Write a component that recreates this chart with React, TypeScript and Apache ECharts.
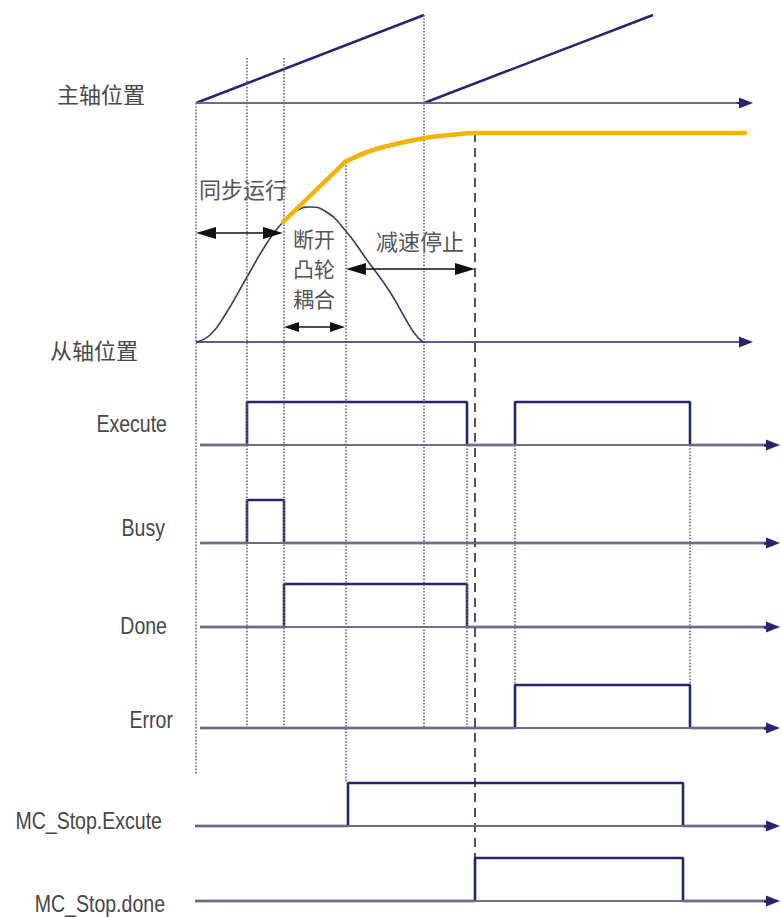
import React, { useEffect, useRef } from "react";
import * as echarts from "echarts";

// ---------------- DATA (diagram time units; 0 = start of synchronous run) ----------------
// master axis position: two saw-tooth cycles (0 = start of cycle, 1 = end of cycle)
const masterCycleStart = [0, 228];
const masterCycleEnd = [228, 457];

// slave axis cam profile (bell)
const slaveTimes = [0, 14, 29, 51, 71, 87, 102, 114, 129, 149, 171, 194, 209, 219, 227];
const slavePos = [0, 7, 27, 65, 99, 120, 132, 135, 131, 112, 82, 50, 24, 8, 0];

// slave position after decoupling (yellow): straight part then deceleration
const decoupleTimes = [87, 149];
const decouplePos = [120, 180];
const decelTimes = [149, 174, 204, 229, 254, 279, 549];
const decelPos = [180, 191, 199, 204, 207, 209, 209];

// digital signals (step, value held until next instant)
const signalNames = ["Execute", "Busy", "Done", "Error", "MC_Stop.Excute", "MC_Stop.done"];
const executeTimes = [4, 51, 271, 319, 494, 572];
const executeLevels = [0, 1, 0, 1, 0, 0];
const busyTimes = [4, 51, 88, 572];
const busyLevels = [0, 1, 0, 0];
const doneTimes = [4, 88, 271, 572];
const doneLevels = [0, 1, 0, 0];
const errorTimes = [4, 319, 494, 572];
const errorLevels = [0, 1, 0, 0];
const stopExecTimes = [-1, 152, 487, 572];
const stopExecLevels = [0, 1, 0, 0];
const stopDoneTimes = [-1, 279, 487, 572];
const stopDoneLevels = [0, 1, 0, 0];

// annotation texts
const annoSync = "同步运行";
const annoDecouple = ["断开", "凸轮", "耦合"];
const annoDecel = "减速停止";
const masterLabel = "主轴位置";
const slaveLabel = "从轴位置";

// ---------------- LAYOUT / STYLE ----------------
const W = 781;
const H = 917;
const X0 = 196; // pixel of time 0
const MASTER_BASE = 103;
const MASTER_AMP = 88;
const SLAVE_BASE = 342;
const ROW_BASE = [445, 543, 627, 728, 826, 901];
const ROW_AMP = 43;
const AXIS_END = 557;
const SIGNAL_AXIS_END = 584;

const NAVY = "#262670";
const AXIS_GRAY = "#6c6c84";
const GUIDE = "#6a6a6a";
const YELLOW = "#f2b400";
const TEXT = "#474747";
const CJK = "'Noto Sans CJK SC', sans-serif";
const LATIN = "'Liberation Sans', Arial, sans-serif";

// dotted guides: [time, yTop, yBottom]
const guides: number[][] = [
  [0, MASTER_BASE, 775],
  [51, 58, ROW_BASE[3]],
  [88, 58, ROW_BASE[3]],
  [150, 162, 783],
  [228, 15, ROW_BASE[3]],
  [271, ROW_BASE[0], ROW_BASE[3]],
  [319, ROW_BASE[0], ROW_BASE[3] - ROW_AMP],
  [494, ROW_BASE[0], ROW_BASE[3] - ROW_AMP],
];
const dashedGuide = [279, 133, 858];

const signalTimes = [executeTimes, busyTimes, doneTimes, errorTimes, stopExecTimes, stopDoneTimes];
const signalLevels = [executeLevels, busyLevels, doneLevels, errorLevels, stopExecLevels, stopDoneLevels];
const labelRight = [167, 165, 167, 173, 162, 165];
const labelY = [424, 528, 626, 720, 821, 904];

function arrowLine(t0: number, y0: number, t1: number, y1: number, headLen: number, both: boolean, color: string, width: number) {
  const dx = t1 - t0;
  const dy = y1 - y0;
  const len = Math.hypot(dx, dy) || 1;
  const ux = dx / len;
  const uy = dy / len;
  const s = both ? [t0 + (ux * headLen) / 2, y0 + (uy * headLen) / 2] : [t0, y0];
  const e = [t1 - (ux * headLen) / 2, y1 - (uy * headLen) / 2];
  return [
    { coord: s, lineStyle: { color, width, type: "solid" } },
    { coord: e },
  ];
}

export default function App() {
  const ref = useRef<HTMLDivElement>(null);

  useEffect(() => {
    document.body.style.margin = "0";
    const chart = echarts.init(ref.current!, undefined, { renderer: "svg" });

    const series: any[] = [];

    // guide lines (dotted) + dashed
    series.push({
      type: "line",
      data: [],
      silent: true,
      z: 1,
      markLine: {
        silent: true,
        symbol: ["none", "none"],
        label: { show: false },
        animation: false,
        lineStyle: { color: GUIDE, width: 1.6, type: [1.6, 1.6] },
        data: [
          ...guides.map((g) => [{ coord: [g[0], g[1]] }, { coord: [g[0], g[2]] }]),
          [
            { coord: [dashedGuide[0], dashedGuide[1]], lineStyle: { color: "#2b2b2b", width: 1.6, type: [9, 6] } },
            { coord: [dashedGuide[0], dashedGuide[2]] },
          ],
        ],
      },
    });

    // axis lines (plain part)
    const axisPlain: any[] = [
      [{ coord: [0, MASTER_BASE], lineStyle: { color: AXIS_GRAY, width: 2, type: "solid" } }, { coord: [AXIS_END - 10, MASTER_BASE] }],
    ];
    ROW_BASE.forEach((b, i) => {
      axisPlain.push([
        { coord: [signalTimes[i][0], b], lineStyle: { color: AXIS_GRAY, width: 2, type: "solid" } },
        { coord: [SIGNAL_AXIS_END - 10, b] },
      ]);
    });
    series.push({
      type: "line",
      data: [],
      silent: true,
      z: 2,
      markLine: { silent: true, symbol: ["none", "none"], label: { show: false }, animation: false, data: axisPlain },
    });

    // axis arrow heads (navy)
    const axisArrows: any[] = [
      arrowLine(AXIS_END - 16, MASTER_BASE, AXIS_END, MASTER_BASE, 14, false, NAVY, 2),
      arrowLine(0, SLAVE_BASE, AXIS_END, SLAVE_BASE, 14, false, NAVY, 1.6),
    ];
    ROW_BASE.forEach((b) => {
      axisArrows.push(arrowLine(SIGNAL_AXIS_END - 16, b, SIGNAL_AXIS_END, b, 14, false, NAVY, 2.6));
    });
    series.push({
      type: "line",
      data: [],
      silent: true,
      z: 3,
      markLine: {
        silent: true,
        symbol: ["none", "triangle"],
        symbolSize: [11, 14],
        label: { show: false },
        animation: false,
        data: axisArrows,
      },
    });

    // annotation double arrows
    series.push({
      type: "line",
      data: [],
      silent: true,
      z: 6,
      markLine: {
        silent: true,
        symbol: ["triangle", "triangle"],
        symbolSize: [12, 20],
        label: { show: false },
        animation: false,
        data: [
          arrowLine(0, 233, 87, 233, 20, true, "#111", 1.6),
          arrowLine(150, 269, 279, 269, 20, true, "#111", 1.6),
        ],
      },
    });
    series.push({
      type: "line",
      data: [],
      silent: true,
      z: 6,
      markLine: {
        silent: true,
        symbol: ["triangle", "triangle"],
        symbolSize: [10, 15],
        label: { show: false },
        animation: false,
        data: [arrowLine(88, 327, 149, 327, 15, true, "#111", 1.6)],
      },
    });

    // master position ramps
    masterCycleStart.forEach((t0, i) => {
      series.push({
        type: "line",
        silent: true,
        z: 4,
        symbol: "none",
        lineStyle: { color: NAVY, width: 2.5 },
        data: [
          [t0, MASTER_BASE - 0 * MASTER_AMP],
          [masterCycleEnd[i], MASTER_BASE - 1 * MASTER_AMP],
        ],
      });
    });

    // slave bell
    series.push({
      type: "line",
      silent: true,
      z: 4,
      symbol: "none",
      smooth: 0.5,
      lineStyle: { color: "#3a3a68", width: 1.6 },
      data: slaveTimes.map((t, i) => [t, SLAVE_BASE - slavePos[i]]),
    });

    // yellow slave path after decoupling
    series.push({
      type: "line",
      silent: true,
      z: 5,
      symbol: "none",
      lineStyle: { color: YELLOW, width: 4.5, cap: "round" },
      data: decoupleTimes.map((t, i) => [t, SLAVE_BASE - decouplePos[i]]),
    });
    series.push({
      type: "line",
      silent: true,
      z: 5,
      symbol: "none",
      smooth: 0.4,
      lineStyle: { color: YELLOW, width: 4.5, cap: "round" },
      data: decelTimes.map((t, i) => [t, SLAVE_BASE - decelPos[i]]),
    });

    // digital signals
    signalNames.forEach((name, r) => {
      series.push({
        name,
        type: "line",
        silent: true,
        z: 4,
        symbol: "none",
        step: "end",
        lineStyle: { color: NAVY, width: 2.6 },
        data: signalTimes[r].map((t, i) => [t, ROW_BASE[r] - signalLevels[r][i] * ROW_AMP]),
      });
    });

    const texts: any[] = [
      { type: "text", x: 57, y: 93, style: { text: masterLabel, font: `22px ${CJK}`, fill: TEXT, align: "left", verticalAlign: "middle" } },
      { type: "text", x: 50, y: 349, style: { text: slaveLabel, font: `22px ${CJK}`, fill: TEXT, align: "left", verticalAlign: "middle" } },
      { type: "text", x: 199, y: 188, style: { text: annoSync, font: `22px ${CJK}`, fill: "#555", align: "left", verticalAlign: "middle" } },
      { type: "text", x: 376, y: 240, style: { text: annoDecel, font: `22px ${CJK}`, fill: "#555", align: "left", verticalAlign: "middle" } },
      {
        type: "text",
        x: 314,
        y: 268,
        style: {
          text: annoDecouple.join("\n"),
          font: `21px ${CJK}`,
          lineHeight: 30,
          fill: "#555",
          align: "center",
          verticalAlign: "middle",
        },
      },
      ...signalNames.map((s, i) => ({
        type: "text",
        x: labelRight[i],
        y: labelY[i],
        scaleX: 0.85,
        style: { text: s, font: `23px ${LATIN}`, fill: TEXT, align: "right", verticalAlign: "middle" },
      })),
    ];

    chart.setOption({
      animation: false,
      backgroundColor: "#ffffff",
      grid: { left: 0, right: 0, top: 0, bottom: 0 },
      xAxis: { type: "value", min: -X0, max: W - X0, show: false },
      yAxis: { type: "value", min: 0, max: H, inverse: true, show: false },
      series,
      graphic: texts,
    });

    return () => chart.dispose();
  }, []);

  return <div ref={ref} style={{ position: "absolute", left: 0, top: 0, width: W, height: H }} />;
}
